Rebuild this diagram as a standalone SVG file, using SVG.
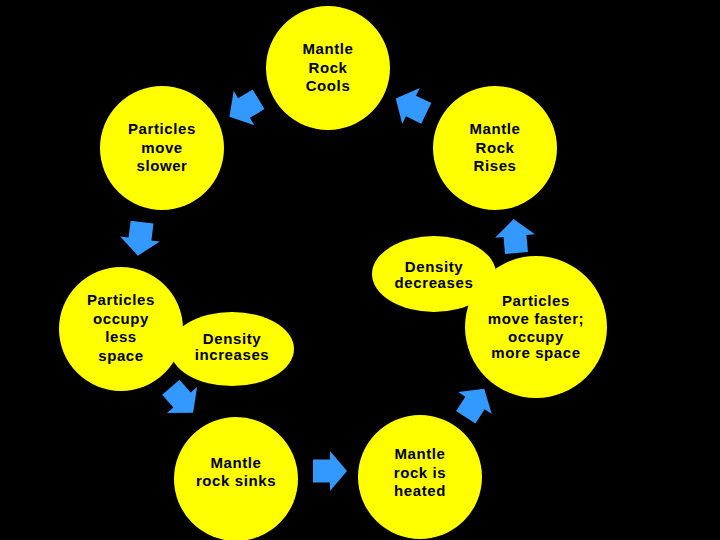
<svg xmlns="http://www.w3.org/2000/svg" width="720" height="540" viewBox="0 0 720 540">
<defs>
<style>
.n{fill:#FFFF00}
.t{font-family:"Liberation Sans",Arial,sans-serif;font-size:15px;font-weight:bold;fill:#000;text-anchor:middle;letter-spacing:0.6px}
.a{fill:#3399FF}
</style>
<path id="arr" d="M-17,-11.5 H0 V-20 L17,0 L0,20 V11.5 H-17 Z"/>
</defs>
<rect width="720" height="540" fill="#000"/>
<g id="connectors" class="a">
<use href="#arr" transform="translate(244,108) rotate(149)"/>
<use href="#arr" transform="translate(411,106) rotate(-154)"/>
<use href="#arr" transform="translate(140,239) rotate(97)"/>
<use href="#arr" transform="translate(515,236) rotate(-95)"/>
<use href="#arr" transform="translate(182,400) rotate(49)"/>
<use href="#arr" transform="translate(475,403) rotate(-57)"/>
<use href="#arr" transform="translate(330,471)"/>
</g>
<g id="cools"><circle class="n" cx="328" cy="68" r="62"/><text class="t"><tspan x="328" y="54">Mantle</tspan><tspan x="328" y="72.5">Rock</tspan><tspan x="328" y="91">Cools</tspan></text></g>
<g id="slower"><circle class="n" cx="162" cy="148" r="62"/><text class="t"><tspan x="162" y="134">Particles</tspan><tspan x="162" y="152.5">move</tspan><tspan x="162" y="171">slower</tspan></text></g>
<g id="rises"><circle class="n" cx="495" cy="148" r="62"/><text class="t"><tspan x="495" y="134">Mantle</tspan><tspan x="495" y="152.5">Rock</tspan><tspan x="495" y="171">Rises</tspan></text></g>
<g id="less"><circle class="n" cx="121" cy="329" r="62"/><text class="t"><tspan x="121" y="305">Particles</tspan><tspan x="121" y="323.5">occupy</tspan><tspan x="121" y="342">less</tspan><tspan x="121" y="360.5">space</tspan></text></g>
<g id="increases"><ellipse class="n" cx="232" cy="349" rx="62" ry="37"/><text class="t"><tspan x="232" y="344">Density</tspan><tspan x="232" y="360">increases</tspan></text></g>
<g id="decreases"><ellipse class="n" cx="434" cy="274" rx="62" ry="38"/><text class="t"><tspan x="434" y="272">Density</tspan><tspan x="434" y="288">decreases</tspan></text></g>
<g id="faster"><circle class="n" cx="536" cy="327" r="71"/><text class="t"><tspan x="536" y="306">Particles</tspan><tspan x="536" y="324">move faster;</tspan><tspan x="536" y="342">occupy</tspan><tspan x="536" y="358">more space</tspan></text></g>
<g id="sinks"><circle class="n" cx="236" cy="479" r="62"/><text class="t"><tspan x="236" y="468">Mantle</tspan><tspan x="236" y="486">rock sinks</tspan></text></g>
<g id="heated"><circle class="n" cx="420" cy="477" r="62"/><text class="t"><tspan x="420" y="459">Mantle</tspan><tspan x="420" y="477.5">rock is</tspan><tspan x="420" y="496">heated</tspan></text></g>
</svg>
